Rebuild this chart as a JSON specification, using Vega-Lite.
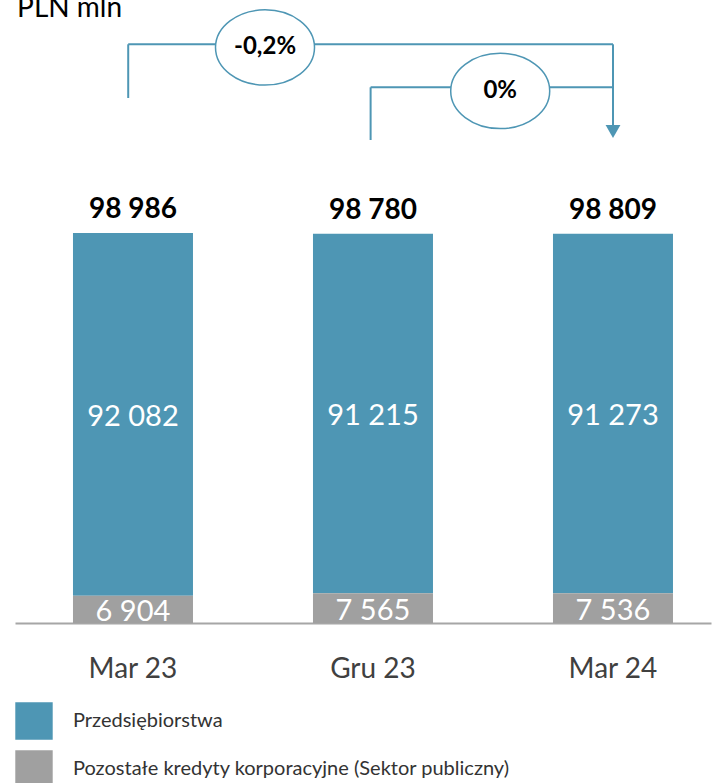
{
  "$schema": "https://vega.github.io/schema/vega-lite/v6.json",
  "autosize": {"type": "none"},
  "width": 696,
  "height": 593,
  "padding": {"left": 15, "top": 30, "right": 2, "bottom": 160},
  "config": {
    "view": {"stroke": null},
    "font": "Lato",
    "locale": {"number": {"decimal": ",", "thousands": " ", "grouping": [3], "currency": ["", " zł"]}}
  },
  "datasets": {
    "bars": [
      {"period": "Mar 23", "seg": "Przedsiębiorstwa", "value": 92082, "ord": 2},
      {"period": "Mar 23", "seg": "Pozostałe kredyty korporacyjne (Sektor publiczny)", "value": 6904, "ord": 1},
      {"period": "Gru 23", "seg": "Przedsiębiorstwa", "value": 91215, "ord": 2},
      {"period": "Gru 23", "seg": "Pozostałe kredyty korporacyjne (Sektor publiczny)", "value": 7565, "ord": 1},
      {"period": "Mar 24", "seg": "Przedsiębiorstwa", "value": 91273, "ord": 2},
      {"period": "Mar 24", "seg": "Pozostałe kredyty korporacyjne (Sektor publiczny)", "value": 7536, "ord": 1}
    ],
    "lines": [
      {"x": -0.02, "y": 133245, "x2": -0.02, "y2": 146870},
      {"x": -0.02, "y": 146870, "x2": 2.0, "y2": 146870},
      {"x": 2.0, "y": 146870, "x2": 2.0, "y2": 126140},
      {"x": 0.99, "y": 122585, "x2": 0.99, "y2": 135960},
      {"x": 0.99, "y": 135960, "x2": 2.0, "y2": 135960}
    ],
    "bubbles": [
      {"x": 0.55, "y": 146060, "label": "-0,2%"},
      {"x": 1.53, "y": 135020, "label": "0%"}
    ],
    "arrow": [
      {"x": 2.0, "y": 124740}
    ],
    "unit": [
      {"x": -0.483, "y": 153800, "label": "PLN mln"}
    ]
  },
  "layer": [
    {
      "data": {"name": "bars"},
      "encoding": {
        "x": {"field": "period", "type": "nominal", "sort": ["Mar 23", "Gru 23", "Mar 24"],
          "scale": {"paddingInner": 0.5, "paddingOuter": 0.2, "align": 0.604},
          "axis": {"title": null, "labelAngle": 0, "ticks": false, "domainColor": "#A6A6A6", "domainWidth": 2, "labelFontSize": 28, "labelFont": "Lato", "labelColor": "#404040", "labelPadding": 32}}
      },
      "layer": [
        {
          "mark": {"type": "bar"},
          "encoding": {
            "y": {"field": "value", "type": "quantitative", "aggregate": "sum", "stack": "zero", "scale": {"domain": [0, 150500], "nice": false}, "axis": null},
            "color": {"field": "seg", "type": "nominal",
              "scale": {"domain": ["Przedsiębiorstwa", "Pozostałe kredyty korporacyjne (Sektor publiczny)"], "range": ["#4E96B4", "#A0A0A0"]},
              "legend": {"title": null, "orient": "none", "legendX": 0, "legendY": 672, "symbolType": "square", "symbolSize": 1400, "symbolStrokeWidth": 0, "symbolOpacity": 1, "rowPadding": 10, "labelOffset": 20, "labelFontSize": 20, "labelFont": "Lato", "labelColor": "#333333", "labelLimit": 600, "padding": 0}},
            "order": {"field": "ord", "type": "quantitative"}
          }
        },
        {
          "transform": [
            {"stack": "value", "groupby": ["period"], "sort": [{"field": "ord"}], "as": ["v0", "v1"]},
            {"calculate": "(datum.v0 + datum.v1) / 2", "as": "mid"}
          ],
          "mark": {"type": "text", "color": "#FFFFFF", "fontSize": 29, "font": "Lato", "baseline": "middle", "dy": 3},
          "encoding": {
            "y": {"field": "mid", "type": "quantitative"},
            "text": {"field": "value", "type": "quantitative", "format": ",.0f"}
          }
        },
        {
          "mark": {"type": "text", "color": "#000000", "fontSize": 28, "font": "Lato", "fontWeight": "bold", "baseline": "alphabetic", "dy": -15},
          "encoding": {
            "y": {"field": "value", "type": "quantitative", "aggregate": "sum"},
            "text": {"field": "value", "type": "quantitative", "aggregate": "sum", "format": ",.0f"}
          }
        }
      ]
    },
    {
      "layer": [
        {
          "data": {"name": "lines"},
          "mark": {"type": "rule", "color": "#4E96B4", "strokeWidth": 2},
          "encoding": {
            "x": {"field": "x", "type": "quantitative", "scale": {"domain": [-0.4917, 2.4083], "nice": false, "zero": false}, "axis": null},
            "x2": {"field": "x2"},
            "y": {"field": "y", "type": "quantitative"},
            "y2": {"field": "y2"}
          }
        },
        {
          "data": {"name": "arrow"},
          "mark": {"type": "point", "shape": "triangle-down", "filled": true, "color": "#4E96B4", "size": 220, "opacity": 1},
          "encoding": {
            "x": {"field": "x", "type": "quantitative", "scale": {"domain": [-0.4917, 2.4083], "nice": false, "zero": false}, "axis": null},
            "y": {"field": "y", "type": "quantitative"}
          }
        },
        {
          "data": {"name": "bubbles"},
          "mark": {"type": "point", "shape": "M-1,0A1,0.76,0,1,1,1,0A1,0.76,0,1,1,-1,0Z", "filled": false, "fill": "#FFFFFF", "fillOpacity": 1, "stroke": "#4E96B4", "strokeWidth": 1.5, "size": 9801, "opacity": 1},
          "encoding": {
            "x": {"field": "x", "type": "quantitative", "scale": {"domain": [-0.4917, 2.4083], "nice": false, "zero": false}, "axis": null},
            "y": {"field": "y", "type": "quantitative"}
          }
        },
        {
          "data": {"name": "bubbles"},
          "mark": {"type": "text", "color": "#000000", "fontSize": 24, "font": "Lato", "fontWeight": "bold", "baseline": "middle"},
          "encoding": {
            "x": {"field": "x", "type": "quantitative", "scale": {"domain": [-0.4917, 2.4083], "nice": false, "zero": false}, "axis": null},
            "y": {"field": "y", "type": "quantitative"},
            "text": {"field": "label", "type": "nominal"}
          }
        },
        {
          "data": {"name": "unit"},
          "mark": {"type": "text", "color": "#000000", "fontSize": 28, "font": "Lato", "align": "left", "baseline": "alphabetic"},
          "encoding": {
            "x": {"field": "x", "type": "quantitative", "scale": {"domain": [-0.4917, 2.4083], "nice": false, "zero": false}, "axis": null},
            "y": {"field": "y", "type": "quantitative"},
            "text": {"field": "label", "type": "nominal"}
          }
        }
      ]
    }
  ],
  "resolve": {"scale": {"x": "independent"}, "axis": {"x": "independent"}}
}
